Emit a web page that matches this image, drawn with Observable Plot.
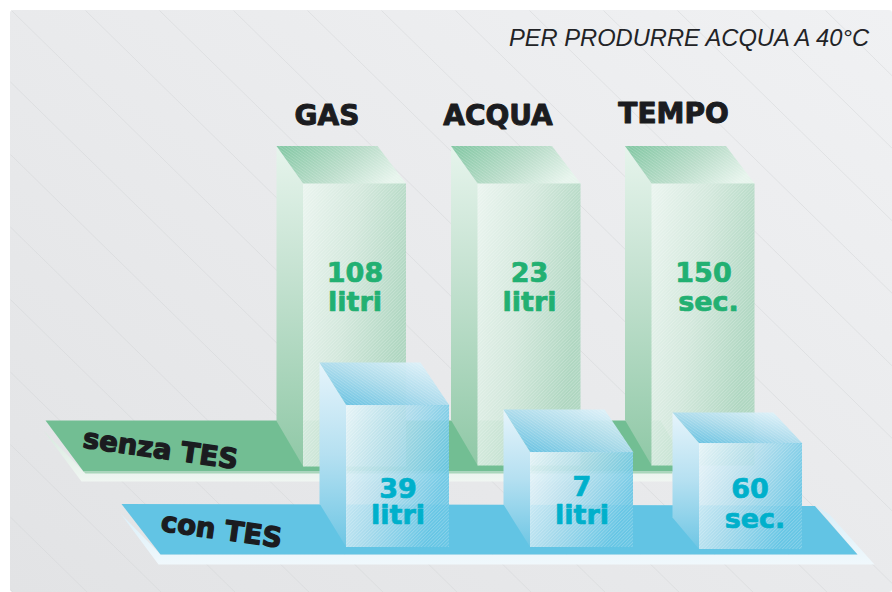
<!DOCTYPE html>
<html><head><meta charset="utf-8">
<style>html,body{margin:0;padding:0;background:#fff}svg{display:block}</style>
<script src="https://cdn.jsdelivr.net/npm/d3@7"></script>
<script src="https://cdn.jsdelivr.net/npm/@observablehq/plot@0.6"></script>
</head><body><div id="chart"></div>
<script>
const categories = ["GAS", "ACQUA", "TEMPO"];
const series = ["senza TES", "con TES"];
const title = "PER PRODURRE ACQUA A 40°C";
const senzaValues = ["108", "23", "150"];
const senzaUnits = ["litri", "litri", "sec."];
const conValues = ["39", "7", "60"];
const conUnits = ["litri", "litri", "sec."];
// drawn heights of the front faces
const senzaHeights = [283, 282, 282];
const conHeights = [142, 95, 106];
const senzaFront = [303, 477.5, 651.5];
const conFront = [346, 530, 699];
const senzaBase = [466.5, 465.5, 465.5];
const conBase = [547, 547, 549];
const conDepthY = [43, 43, 31];
const conDepthBase = [44, 43, 32];
const headingX = [326.5, 497.5, 673];
const headingY = [116, 116, 114];
const hatchStarts = [-581,-507,-433,-359,-285,-211,-137,-63,11,85,159,233,307,381,455,529,603,677,751,825];

const faces = (front, base, h, dx, dy, bdy) => {
  const top = base - h, w = 103;
  return {
    front: {x1: front, x2: front + w, y1: top, y2: base},
    left: [[front, top], [front - dx, top - dy], [front - dx, base - bdy], [front, base]].map(([x, y]) => ({x, y})),
    top: [[front, top], [front - dx, top - dy], [front + w - 29, top - dy], [front + w, top]].map(([x, y]) => ({x, y}))
  };
};
const greens = categories.map((c, i) => faces(senzaFront[i], senzaBase[i], senzaHeights[i], 27, 38, 46));
const blues = categories.map((c, i) => faces(conFront[i], conBase[i], conHeights[i], 27, conDepthY[i], conDepthBase[i]));

function grad(id, x1, y1, x2, y2, stops) {
  return `<linearGradient id="${id}" x1="${x1}" y1="${y1}" x2="${x2}" y2="${y2}">` +
    stops.map(([o, c, a]) => `<stop offset="${o}" stop-color="${c}" stop-opacity="${a ?? 1}"/>`).join("") + `</linearGradient>`;
}
const defsMark = () => {
  const g = document.createElementNS("http://www.w3.org/2000/svg", "defs");
  g.innerHTML =
    grad("bg", 0, 1, 1, 0, [[0, "#e2e3e5"], [1, "#f0f1f3"]]) +
    grad("gLip", 0, 0, 0, 1, [[0, "#d8eadf"], [1, "#f0f6f2"]]) +
    grad("bLip", 0, 0, 0, 1, [[0, "#d8eef8"], [1, "#f0f8fc"]]) +
    grad("gFront", 0, 0, 1, .4, [[0, "#eaf5ef", .95], [.5, "#d0e7da", .92], [1, "#a6d3ba", .88]]) +
    grad("gLeft", 0, 0, 0, 1, [[0, "#e6f4ec"], [.4, "#c5e2d1"], [1, "#8fc8a6"]]) +
    grad("gTop", 0, 0.2, 1, 0.6, [[0, "#85c8a5"], [.55, "#b9dcc9"], [1, "#e6f4ec"]]) +
    grad("bFront", 0, 0, 1, .4, [[0, "#eaf6fb", .88], [.5, "#aedcec", .88], [1, "#66c5e4", .92]]) +
    grad("bLeft", 0, 0, 0, 1, [[0, "#e6f4fb"], [.5, "#b5e0f1"], [1, "#6ec6e4"]]) +
    grad("bTop", 0, 1, 1, 0, [[0, "#55bbe0", .97], [.5, "#a9daec", .95], [1, "#eaf7fc", .95]]) +
    `<pattern id="hatchF" width="2.4" height="2.4" patternUnits="userSpaceOnUse" patternTransform="rotate(-45)"><rect width="2.4" height=".9" fill="#fff" fill-opacity=".24"/></pattern>` +
    `<pattern id="hatchT" width="2.4" height="2.4" patternUnits="userSpaceOnUse" patternTransform="rotate(35)"><rect width="2.4" height=".9" fill="#fff" fill-opacity=".18"/></pattern>`;
  return g;
};
const poly = (pts, fill) => Plot.line(pts, {x: "x", y: "y", fill, stroke: "none", curve: "linear"});
const boxMarks = (b, fFill, lFill, tFill) => [
  poly(b.left, lFill),
  poly(b.top, tFill),
  poly(b.top, "url(#hatchT)"),
  Plot.rect([b.front], {x1: "x1", x2: "x2", y1: "y1", y2: "y2", fill: fFill}),
  Plot.rect([b.front], {x1: "x1", x2: "x2", y1: "y1", y2: "y2", fill: "url(#hatchF)"})
];
const pts = a => a.map(([x, y]) => ({x, y}));
const numFont = {fontFamily: "DejaVu Sans", fontWeight: 700, fontSize: 27, strokeWidth: .7};
const rowsOf = (front, vals, ys, dx) => vals.map((t, i) => ({t, x: front[i] + 51.5 + (dx ? dx[i] : 0), y: ys[i]}));

const plot = Plot.plot({
  width: 892, height: 592, margin: 0,
  x: {domain: [0, 892], range: [0, 892], axis: null},
  y: {domain: [0, 592], range: [0, 592], axis: null},
  style: {background: "#fff"},
  marks: [
    defsMark,
    Plot.rect([{}], {x1: () => 10, x2: () => 892, y1: () => 10, y2: () => 592, fill: "url(#bg)", rx: 3}),
    Plot.link(hatchStarts, {x1: d => Math.max(d, 10), y1: d => d < 10 ? 10 + (10 - d) * .98 : 10, x2: d => d + 582 / .98, y2: () => 592, stroke: "#d3d4d7", strokeWidth: .5}),
    // senza TES platform
    poly(pts([[43, 430], [81, 481], [672, 481], [672, 471], [83, 471]]), "url(#gLip)"),
    poly(pts([[45, 420], [660, 420], [690, 471], [83, 471]]), "#72be93"),
    poly(pts([[83, 471], [672, 471], [672, 473], [85, 473]]), "#a9d6bb"),
    greens.flatMap(b => boxMarks(b, "url(#gFront)", "url(#gLeft)", "url(#gTop)")),
    // con TES platform
    poly(pts([[120, 513], [158, 564], [874, 564], [829, 514], [815, 505], [857, 554], [160, 554]]), "url(#bLip)"),
    poly(pts([[121, 503.5], [814, 505], [857, 554], [160, 554]]), "#62c4e4"),
    blues.flatMap(b => boxMarks(b, "url(#bFront)", "url(#bLeft)", "url(#bTop)")),
    // texts
    Plot.text([title], {x: () => 868.5, y: () => 37.5, text: d => d, textAnchor: "end", fontFamily: "Liberation Sans", fontStyle: "italic", fontSize: 23.7, fill: "#222326"}),
    Plot.text(categories, {x: (d, i) => headingX[i], y: (d, i) => headingY[i], text: d => d, fontFamily: "DejaVu Sans", fontWeight: 700, fontSize: 28, fill: "#1b1c20", stroke: "#1b1c20", strokeWidth: 1}),
    Plot.text(rowsOf(senzaFront, senzaValues, [273, 273, 273]), {x: "x", y: "y", text: "t", ...numFont, fill: "#22b072", stroke: "#22b072"}),
    Plot.text(rowsOf(senzaFront, senzaUnits, [302, 302, 302], [0, 0, 5]), {x: "x", y: "y", text: "t", ...numFont, fill: "#22b072", stroke: "#22b072"}),
    Plot.text(rowsOf(conFront, conValues, [489, 487, 489], [0, 0, -1]), {x: "x", y: "y", text: "t", ...numFont, fill: "#00b0cb", stroke: "#00b0cb"}),
    Plot.text(rowsOf(conFront, conUnits, [515, 515, 519], [0, 0, 4]), {x: "x", y: "y", text: "t", ...numFont, fill: "#00b0cb", stroke: "#00b0cb"}),
    Plot.text([series[0]], {x: () => 160, y: () => 449, text: d => d, rotate: 8, fontFamily: "DejaVu Sans", fontWeight: 700, fontSize: 27.5, fill: "#1b1c20", stroke: "#1b1c20", strokeWidth: 1.3}),
    Plot.text([series[1]], {x: () => 221, y: () => 530, text: d => d, rotate: 8, fontFamily: "DejaVu Sans", fontWeight: 700, fontSize: 27.5, fill: "#1b1c20", stroke: "#1b1c20", strokeWidth: 1.3})
  ]
});
document.getElementById("chart").append(plot);
</script></body></html>
